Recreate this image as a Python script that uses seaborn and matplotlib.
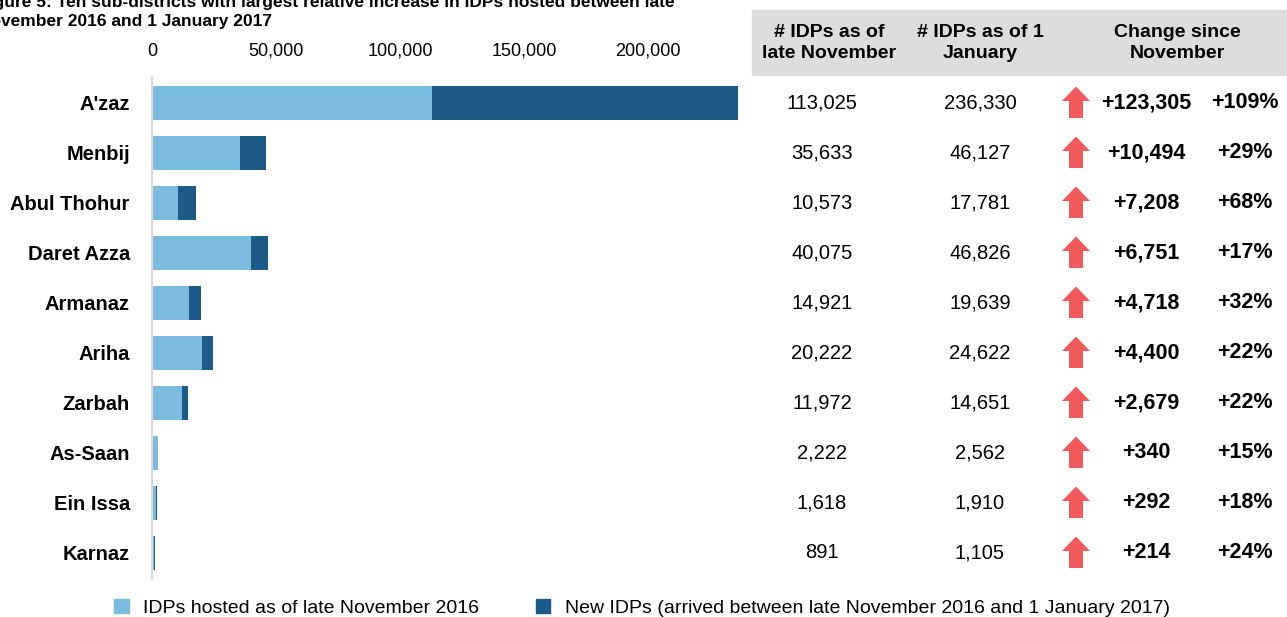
import matplotlib
matplotlib.use("Agg")
import matplotlib.pyplot as plt
import matplotlib.transforms as mtransforms
from matplotlib.patches import Polygon, Rectangle, Patch
import seaborn as sns
import pandas as pd

districts = ["A'zaz", "Menbij", "Abul Thohur", "Daret Azza", "Armanaz",
             "Ariha", "Zarbah", "As-Saan", "Ein Issa", "Karnaz"]
idps_nov = [113025, 35633, 10573, 40075, 14921, 20222, 11972, 2222, 1618, 891]
idps_jan = [236330, 46127, 17781, 46826, 19639, 24622, 14651, 2562, 1910, 1105]
change_abs = [123305, 10494, 7208, 6751, 4718, 4400, 2679, 340, 292, 214]
change_pct = [109, 29, 68, 17, 32, 22, 22, 15, 18, 24]
x_ticks = [0, 50000, 100000, 150000, 200000]

LIGHT = "#7bbbe0"
DARK = "#1c5a87"
ARROW = "#f05a5a"

sns.set_theme(style="white")
plt.rcParams["font.family"] = ["Liberation Sans Narrow", "Liberation Sans", "DejaVu Sans"]
plt.rcParams["text.color"] = "black"
plt.rcParams["xtick.color"] = "black"
plt.rcParams["ytick.color"] = "black"

W, H = 1287, 617
fig = plt.figure(figsize=(W / 100, H / 100), dpi=100)
ax = fig.add_axes([152 / W, 1 - 578 / H, (738 - 152) / W, 500 / H])

df = pd.DataFrame({"district": districts, "nov": idps_nov, "jan": idps_jan})
sns.barplot(data=df, y="district", x="jan", color=DARK, orient="h",
            width=0.68, ax=ax, saturation=1, linewidth=0)
sns.barplot(data=df, y="district", x="nov", color=LIGHT, orient="h",
            width=0.68, ax=ax, saturation=1, linewidth=0)

ax.set_xlim(0, 236330)
ax.set_ylim(9.5, -0.5)
ax.xaxis.tick_top()
ax.set_xticks(x_ticks)
ax.set_xticklabels([f"{v:,}" for v in x_ticks], fontsize=13)
ax.tick_params(axis="x", length=0, pad=13)
ax.tick_params(axis="y", length=0, pad=16)
for lab in ax.get_yticklabels():
    lab.set_fontweight("bold")
    lab.set_fontsize(14.5)
ax.set_xlabel("")
ax.set_ylabel("")
for s in ["top", "right", "bottom"]:
    ax.spines[s].set_visible(False)
ax.spines["left"].set_color("#d9d9d9")
ax.spines["left"].set_linewidth(1.5)

# Header band
fig.patches.append(Rectangle((752 / W, 1 - 75 / H), (W - 752) / W, 65 / H,
                             transform=fig.transFigure, color="#dddddd", zorder=0))
hy = 1 - 43 / H
fig.text(829 / W, hy, "# IDPs as of\nlate November", ha="center", va="center",
         fontsize=14, fontweight="bold", linespacing=1.3)
fig.text(980 / W, hy, "# IDPs as of 1\nJanuary", ha="center", va="center",
         fontsize=14, fontweight="bold", linespacing=1.3)
fig.text(1177 / W, hy, "Change since\nNovember", ha="center", va="center",
         fontsize=14, fontweight="bold", linespacing=1.3)

# Table rows
tr = mtransforms.blended_transform_factory(fig.transFigure, ax.transData)
for i in range(len(districts)):
    ax.text(822 / W, i, f"{idps_nov[i]:,}", transform=tr, ha="center", va="center",
            fontsize=14.5, clip_on=False)
    ax.text(980 / W, i, f"{idps_jan[i]:,}", transform=tr, ha="center", va="center",
            fontsize=14.5, clip_on=False)
    ax.text(1146 / W, i, f"+{change_abs[i]:,}", transform=tr, ha="center", va="center",
            fontsize=15.5, fontweight="bold", clip_on=False)
    ax.text(1245 / W, i, f"+{change_pct[i]}%", transform=tr, ha="center", va="center",
            fontsize=15.5, fontweight="bold", clip_on=False)
    cx = 1076 / W
    hw = 14 / W
    sw = 7 / W
    top, mid, bot = i - 0.33, i - 0.04, i + 0.30
    pts = [(cx, top), (cx + hw, mid), (cx + sw, mid), (cx + sw, bot),
           (cx - sw, bot), (cx - sw, mid), (cx - hw, mid)]
    ax.add_patch(Polygon(pts, closed=True, transform=tr, color=ARROW,
                         clip_on=False, lw=0))

# Title (cropped at the top edge in the reference)
fig.text(-22 / W, 1 - 26 / H,
         "Figure 5: Ten sub-districts with largest relative increase in IDPs hosted between late\n"
         "November 2016 and 1 January 2017",
         ha="left", va="baseline", fontsize=12.5, fontweight="bold", linespacing=1.35)

# Legend
handles = [Patch(color=LIGHT, label="IDPs hosted as of late November 2016"),
           Patch(color=DARK, label="New IDPs (arrived between late November 2016 and 1 January 2017)")]
fig.legend(handles=handles, loc="center left", bbox_to_anchor=(114 / W, 1 - 608 / H),
           ncol=2, frameon=False, fontsize=14, handlelength=0.75, handleheight=0.75,
           handletextpad=0.75, columnspacing=2.9, borderaxespad=0, borderpad=0)

fig.savefig("out.png", dpi=100)
